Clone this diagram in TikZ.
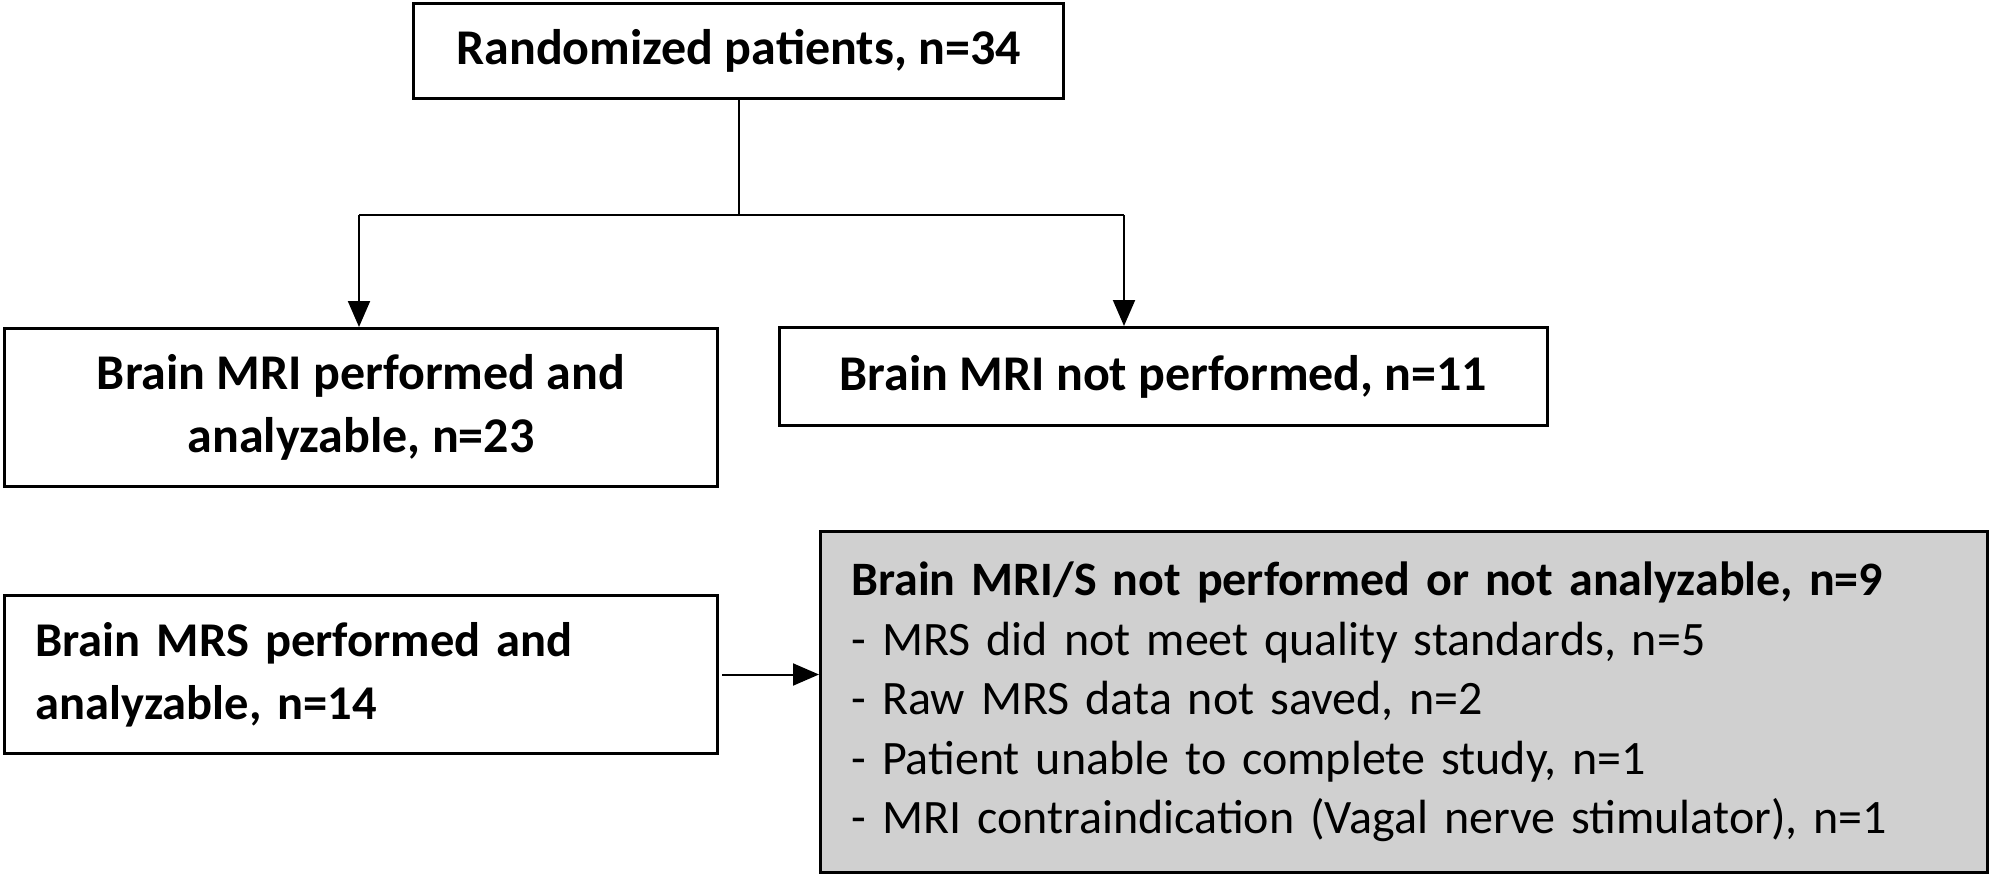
\documentclass[tikz,border=0pt]{standalone}
\usepackage{fontspec}
\setmainfont{Carlito}
\usetikzlibrary{arrows.meta}
\definecolor{boxgray}{RGB}{208,208,208}
\begin{document}
\begin{tikzpicture}[x=1pt,y=-1pt,
  box/.style={draw=black, line width=3pt, fill=white, inner sep=0pt,
    font=\fontsize{50}{63}\selectfont\bfseries, align=center},
  conn/.style={line width=2pt},
  arr/.style={conn, -{Triangle[length=26pt,width=22pt]}}]
\useasboundingbox (0,0) rectangle (1990,878);
\node[box, anchor=north west, minimum width=650pt, minimum height=95pt] (top) at (412,2) {Randomized patients, n=34};
\node[box, anchor=north west, minimum width=713pt, minimum height=158pt] (b1) at (3,327) {Brain MRI performed and\\analyzable, n=23};
\node[box, anchor=north west, minimum width=768pt, minimum height=98pt] (b2) at (778,326) {Brain MRI not performed, n=11};
\node[box, anchor=north west, minimum width=713pt, minimum height=158pt, text width=651pt, inner xsep=31pt, align=left,
  font=\fontsize{48.5}{63}\selectfont\bfseries] (mrs) at (3,594) {Brain MRS performed and\\analyzable, n=14};
\node[box, anchor=north west, fill=boxgray, minimum width=1167pt, minimum height=341pt, text width=1105pt, inner xsep=31pt, align=left,
  font=\fontsize{48}{59.5}\selectfont] (gray) at (819,530) {\textbf{Brain MRI/S not performed or not analyzable, n=9}\\- MRS did not meet quality standards, n=5\\- Raw MRS data not saved, n=2\\- Patient unable to complete study, n=1\\- MRI contraindication (Vagal nerve stimulator), n=1};
\coordinate (jl) at (359,215);
\coordinate (jr) at (1124,215);
\draw[conn] (top.south) -- (top.south |- jl);
\draw[conn] (jl) -- (jr);
\draw[arr] (jl) -- (jl |- b1.north);
\draw[arr] (jr) -- (jr |- b2.north);
\draw[arr] ([xshift=3pt]mrs.east) -- (mrs.east -| gray.west);
\end{tikzpicture}
\end{document}
